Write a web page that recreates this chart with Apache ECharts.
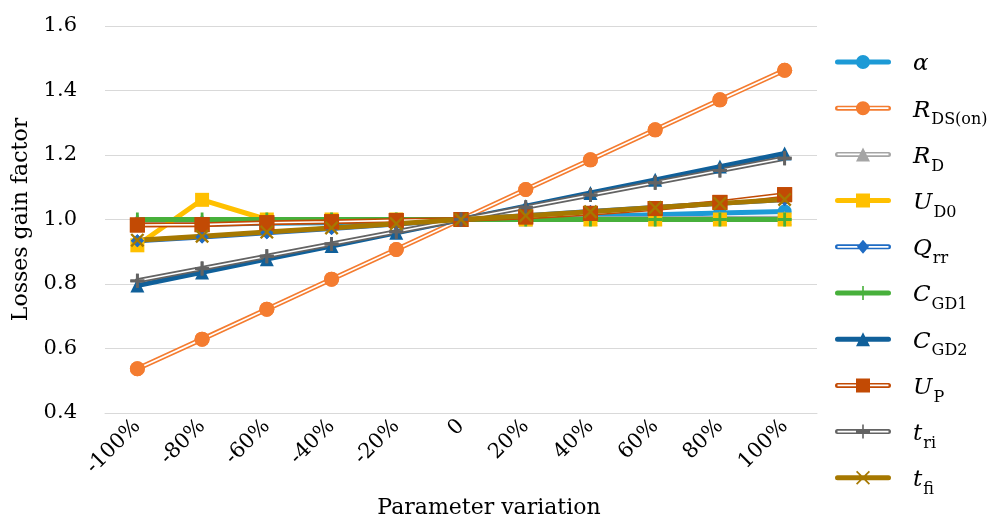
<!DOCTYPE html>
<html><head><meta charset="utf-8">
<script src="https://cdn.jsdelivr.net/npm/echarts@6/dist/echarts.min.js"></script>
<style>html,body{margin:0;padding:0;background:#fff}#c{width:995px;height:524px}</style>
</head><body><div id="c"></div>
<script>
const categories = ['-100%','-80%','-60%','-40%','-20%','0','20%','40%','60%','80%','100%'];
const yTicks = [0.4, 0.6, 0.8, 1.0, 1.2, 1.4, 1.6];
const alpha = [0.985,0.985,0.988,0.990,0.995,1.000,1.005,1.010,1.015,1.020,1.025];
const rdson = [0.537,0.629,0.722,0.815,0.907,1.000,1.093,1.185,1.278,1.371,1.463];
const rd    = [0.997,0.997,0.998,0.998,0.999,1.000,1.001,1.002,1.002,1.003,1.004];
const ud0   = [0.920,1.061,1.000,1.000,1.000,1.000,1.000,1.000,1.000,1.000,1.000];
const qrr   = [0.934,0.946,0.959,0.972,0.986,1.000,1.012,1.025,1.037,1.050,1.062];
const cgd1  = [1.000,1.000,1.000,1.000,1.000,1.000,1.000,1.000,1.000,1.000,1.000];
const cgd2  = [0.795,0.836,0.877,0.918,0.959,1.000,1.041,1.082,1.123,1.164,1.205];
const up    = [0.983,0.984,0.990,0.993,0.997,1.000,1.008,1.019,1.034,1.053,1.077];
const tri   = [0.810,0.848,0.886,0.924,0.962,1.000,1.038,1.076,1.114,1.152,1.190];
const tfi   = [0.936,0.948,0.961,0.974,0.987,1.000,1.012,1.024,1.037,1.050,1.062];

const PLUS = 'path://M4,0H6V4H10V6H6V10H4V6H0V4H4Z';
const CROSS = 'path://M1.2,0L5,3.8L8.8,0L10,1.2L6.2,5L10,8.8L8.8,10L5,6.2L1.2,10L0,8.8L3.8,5L0,1.2Z';

// legend icon pieces, in a 56 x 14 box
const BAND = 'M2.5,4.5H53.5A2.5,2.5 0 0 1 53.5,9.5H2.5A2.5,2.5 0 0 1 2.5,4.5Z';
const HOLE = 'M2.5,6.1V7.9H53.5V6.1Z';
const MK = {
  circle: 'M21,7A7,7 0 1 1 35,7A7,7 0 1 1 21,7Z',
  rect: 'M21,0H35V14H21Z',
  triangle: 'M28,0L35,14H21Z',
  diamond: 'M28,0L34,7L28,14L22,7Z',
  plus: 'M27.2,0H28.8V6.2H35V7.8H28.8V14H27.2V7.8H21V6.2H27.2Z',
  cross: 'M22.2,0L28,5.8L33.8,0L35,1.2L29.2,7L35,12.8L33.8,14L28,8.2L22.2,14L21,12.8L26.8,7L21,1.2Z'
};

const defs = [
  {name:'α', data:alpha, color:'#1d9ad6', symbol:'circle', mk:'circle', size:14, dbl:false},
  {name:'R_DS(on)', data:rdson, color:'#f47c30', symbol:'circle', mk:'circle', size:15, dbl:true},
  {name:'R_D', data:rd, color:'#a5a5a5', symbol:'triangle', mk:'triangle', size:14, dbl:true},
  {name:'U_D0', data:ud0, color:'#ffc000', symbol:'rect', mk:'rect', size:14, dbl:false},
  {name:'Q_rr', data:qrr, color:'#1f6cc4', symbol:'diamond', mk:'diamond', size:13, dbl:true},
  {name:'C_GD1', data:cgd1, color:'#47b03b', symbol:PLUS, mk:'plus', size:14, dbl:false},
  {name:'C_GD2', data:cgd2, color:'#10609a', symbol:'triangle', mk:'triangle', size:14, dbl:false},
  {name:'U_P', data:up, color:'#c24a04', symbol:'rect', mk:'rect', size:15, dbl:true},
  {name:'t_ri', data:tri, color:'#636363', symbol:PLUS, mk:'plus', size:14, dbl:true},
  {name:'t_fi', data:tfi, color:'#a67800', symbol:CROSS, mk:'cross', size:14, dbl:false}
];

const series = [];
defs.forEach(d => {
  series.push({
    type:'line', name:d.name, data:d.data, symbol:d.symbol, symbolSize:d.size,
    showSymbol:true, showAllSymbol:true, animation:false,
    lineStyle:{color:d.color, width:5, cap:'round', join:'round'},
    itemStyle:{color:d.color, borderWidth:0}
  });
  if (d.dbl) {
    series.push({
      type:'line', name:d.name, data:d.data, symbol:'none', animation:false, silent:true,
      lineStyle:{color:'#ffffff', width:1.7}, itemStyle:{color:d.color}
    });
    series.push({
      type:'line', name:d.name, data:d.data, symbol:d.symbol, symbolSize:d.size,
      showSymbol:true, showAllSymbol:true, animation:false, silent:true,
      lineStyle:{width:0, opacity:0}, itemStyle:{color:d.color, borderWidth:0}
    });
  }
});

const SERIF = '"DejaVu Serif", serif';
const chart = echarts.init(document.getElementById('c'));
chart.setOption({
  backgroundColor:'#ffffff',
  animation:false,
  grid:{left:105, right:178, top:26, bottom:110},
  legend:{
    orient:'vertical', left:835, top:53, padding:0, itemWidth:56, itemHeight:14, itemGap:17.2,
    symbolKeepAspect:true,
    data: defs.map(d => ({
      name:d.name,
      icon:'path://' + BAND + (d.dbl ? HOLE : '') + MK[d.mk],
      itemStyle:{color:d.color}
    })),
    selectedMode:false,
    formatter: function(n){
      const p = n.split('_');
      return '{i|' + p[0] + '}{s|' + (p.length > 1 ? p[1] : '\u00a0') + '}';
    },
    textStyle:{
      color:'#000', padding:[0,0,0,17],
      rich:{
        i:{fontFamily:SERIF, fontStyle:'italic', fontSize:23, color:'#000', lineHeight:28, verticalAlign:'bottom'},
        s:{fontFamily:SERIF, fontSize:16, color:'#000', lineHeight:22, verticalAlign:'bottom', padding:[0,0,-6,1]}
      }
    }
  },
  xAxis:{
    type:'category', data:categories, boundaryGap:true,
    axisLine:{show:true, lineStyle:{color:'#d9d9d9', width:1}},
    axisTick:{show:false},
    axisLabel:{rotate:45, margin:10, fontFamily:SERIF, fontSize:21, color:'#000', interval:0},
    name:'Parameter variation', nameLocation:'middle', nameGap:84,
    nameTextStyle:{fontFamily:SERIF, fontSize:22, color:'#000', padding:[0,0,0,56]}
  },
  yAxis:{
    type:'value', min:0.4, max:1.6, interval:0.2,
    axisLine:{show:false}, axisTick:{show:false},
    splitLine:{show:true, lineStyle:{color:'#d9d9d9', width:1}},
    axisLabel:{margin:28, fontFamily:SERIF, fontSize:21, color:'#000',
      formatter: v => yTicks.some(t => Math.abs(t - v) < 1e-9) ? v.toFixed(1) : ''},
    name:'Losses gain factor', nameLocation:'middle', nameGap:70,
    nameTextStyle:{fontFamily:SERIF, fontSize:22, color:'#000'}
  },
  series: series
});
</script></body></html>
